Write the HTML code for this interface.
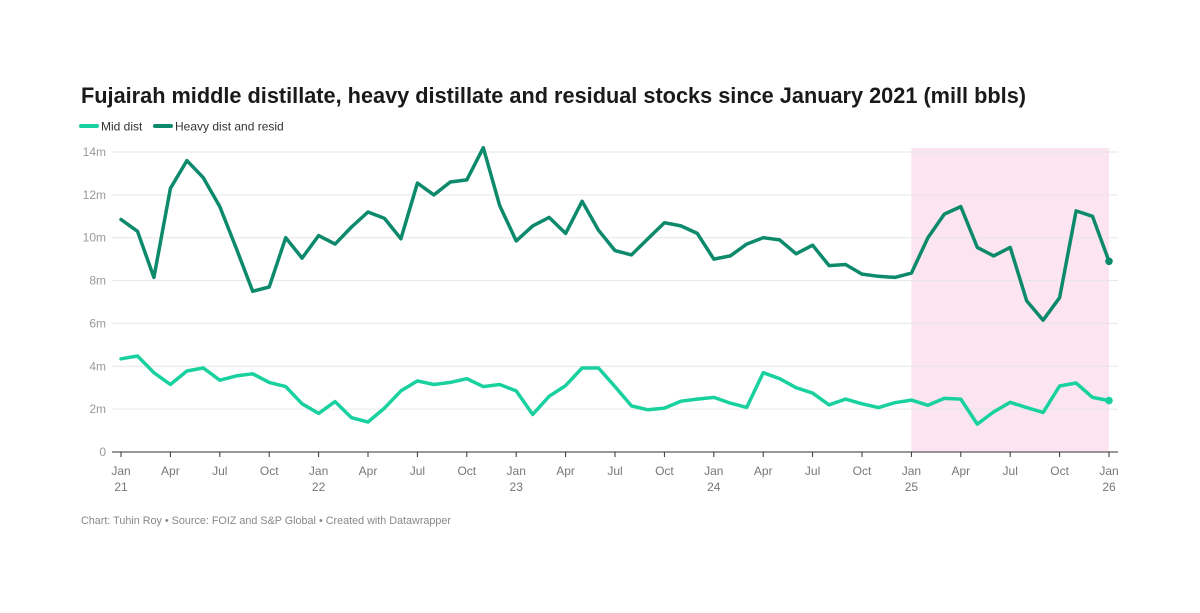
<!DOCTYPE html>
<html><head><meta charset="utf-8"><style>
body{margin:0;background:#fff;font-family:"Liberation Sans",Arial,sans-serif;}
svg text{font-family:"Liberation Sans",Arial,sans-serif;}
</style></head><body>
<svg id="chart" width="1200" height="608">
<text x="81" y="103" font-size="22" font-weight="bold" fill="#1a1a1a" textLength="945" lengthAdjust="spacingAndGlyphs">Fujairah middle distillate, heavy distillate and residual stocks since January 2021 (mill bbls)</text>
<g>
<line x1="81" y1="126" x2="97" y2="126" stroke="#18d19e" stroke-width="4" stroke-linecap="round"/>
<text x="101" y="130.5" font-size="12" fill="#333">Mid dist</text>
<line x1="155" y1="126" x2="171" y2="126" stroke="#0c8a6b" stroke-width="4" stroke-linecap="round"/>
<text x="175" y="130.5" font-size="12" fill="#333">Heavy dist and resid</text>
</g>
<g id="plot"></g>
<text x="81" y="524" font-size="11" fill="#888" textLength="370" lengthAdjust="spacingAndGlyphs">Chart: Tuhin Roy • Source: FOIZ and S&amp;P Global • Created with Datawrapper</text>
</svg>
<script>
const yTicks=[0,2,4,6,8,10,12,14];
const yTickLabels=["0","2m","4m","6m","8m","10m","12m","14m"];
const xTickMonths=[0,3,6,9,12,15,18,21,24,27,30,33,36,39,42,45,48,51,54,57,60];
const xTickLabels=["Jan","Apr","Jul","Oct","Jan","Apr","Jul","Oct","Jan","Apr","Jul","Oct","Jan","Apr","Jul","Oct","Jan","Apr","Jul","Oct","Jan"];
const xTickYears={0:"21",12:"22",24:"23",36:"24",48:"25",60:"26"};
const highlightRange=[48,60];
const heavy=[10.85,10.3,8.15,12.3,13.6,12.8,11.45,9.5,7.5,7.7,10.0,9.05,10.1,9.7,10.5,11.2,10.9,9.95,12.55,12.0,12.6,12.7,14.2,11.5,9.85,10.55,10.95,10.2,11.7,10.35,9.4,9.2,9.95,10.7,10.55,10.2,9.0,9.15,9.7,10.0,9.9,9.25,9.65,8.7,8.75,8.3,8.2,8.15,8.35,10.0,11.1,11.45,9.55,9.15,9.55,7.05,6.15,7.2,11.25,11.0,8.9];
const mid=[4.35,4.48,3.7,3.15,3.78,3.92,3.35,3.55,3.65,3.25,3.05,2.25,1.8,2.35,1.6,1.4,2.05,2.85,3.32,3.15,3.25,3.42,3.05,3.15,2.85,1.75,2.6,3.1,3.92,3.92,3.05,2.15,1.97,2.05,2.37,2.47,2.55,2.28,2.08,3.7,3.42,3.0,2.75,2.2,2.47,2.25,2.07,2.3,2.42,2.18,2.5,2.47,1.3,1.87,2.32,2.07,1.85,3.08,3.22,2.55,2.4];

const NS="http://www.w3.org/2000/svg";
const g=document.getElementById('plot');
const X=m=>121+m*(1109-121)/60;
const Y=v=>452-v*(300/14);
function mk(tag,attrs){const e=document.createElementNS(NS,tag);for(const k in attrs)e.setAttribute(k,attrs[k]);g.appendChild(e);return e;}

let r=mk('rect',{x:X(highlightRange[0]),y:148,width:X(highlightRange[1])-X(highlightRange[0]),height:304,fill:'#fce4f1'});



yTicks.forEach((v,i)=>{
  if(v>0){let l=mk('line',{x1:112,x2:1118,y1:Y(v),y2:Y(v),stroke:'#e6e6e6','stroke-width':1});
  
  }
  let t=mk('text',{x:106,y:Y(v)+4,'font-size':12,fill:'#999','text-anchor':'end'});
  t.textContent=yTickLabels[i];
  
  
});
let ax=mk('line',{x1:112,x2:1118,y1:452,y2:452,stroke:'#333','stroke-width':1});


xTickMonths.forEach((m,i)=>{
  let tk=mk('line',{x1:X(m),x2:X(m),y1:452,y2:457,stroke:'#333','stroke-width':1});
  
  
  let t=mk('text',{x:X(m),y:475,'font-size':12,fill:'#777','text-anchor':'middle'});
  t.textContent=xTickLabels[i];
  
  
  if(xTickYears[m]){let t2=mk('text',{x:X(m),y:491,'font-size':12,fill:'#777','text-anchor':'middle'});
  t2.textContent=xTickYears[m];
  
  }
});
function line(data,color,name){
  const d=data.map((v,i)=>(i?'L':'M')+X(i).toFixed(1)+' '+Y(v).toFixed(1)).join(' ');
  let p=mk('path',{d:d,fill:'none',stroke:color,'stroke-width':3.5,'stroke-linejoin':'round','stroke-linecap':'round'});
  
  
  const n=data.length-1;
  let c=mk('circle',{cx:X(n),cy:Y(data[n]),r:3.8,fill:color});
  
  
}
line(heavy,'#0c8a6b','heavy-dist');
line(mid,'#18d19e','mid-dist');
</script>
</body></html>
